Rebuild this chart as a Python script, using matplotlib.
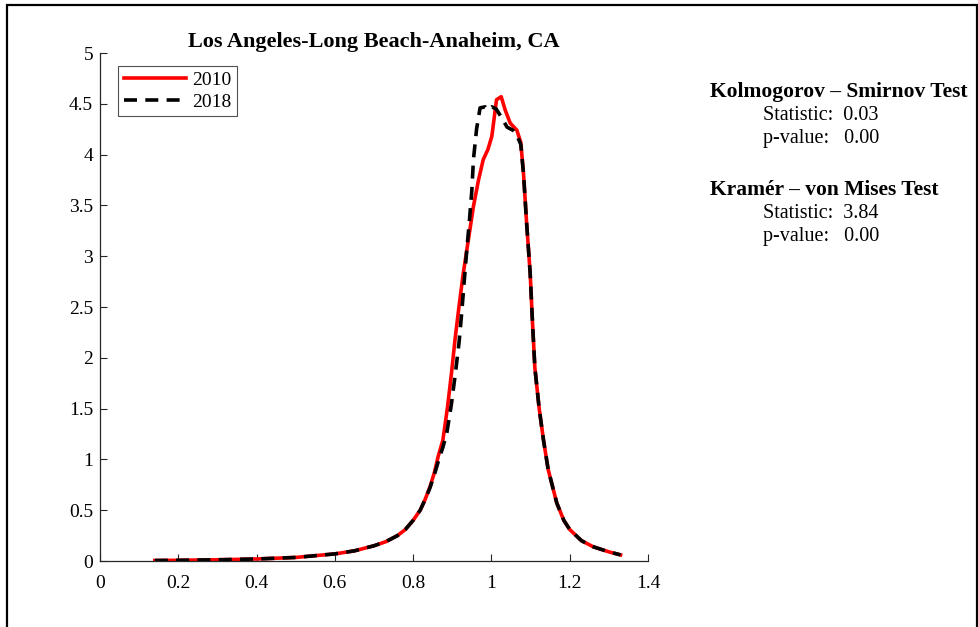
import matplotlib.pyplot as plt
from matplotlib.patches import Rectangle

plt.rcParams['font.family'] = ['Liberation Serif', 'DejaVu Serif']

# kernel density, 2010
x_2010 = [0.14, 0.20, 0.30, 0.40, 0.50, 0.60, 0.65, 0.70, 0.73, 0.76, 0.78, 0.80, 0.818,
          0.83, 0.843, 0.855, 0.864, 0.876, 0.888, 0.898, 0.907, 0.917, 0.928,
          0.941, 0.954, 0.967, 0.979, 0.991, 1.001, 1.013, 1.025, 1.035, 1.048,
          1.065, 1.075, 1.082, 1.090, 1.099, 1.105, 1.111, 1.122, 1.133, 1.145,
          1.167, 1.185, 1.20, 1.23, 1.26, 1.30, 1.33]
y_2010 = [0.005, 0.007, 0.012, 0.02, 0.035, 0.07, 0.10, 0.15, 0.19, 0.25, 0.31, 0.40, 0.50,
          0.60, 0.73, 0.88, 1.03, 1.19, 1.52, 1.85, 2.18, 2.50, 2.83,
          3.16, 3.49, 3.75, 3.95, 4.05, 4.18, 4.54, 4.57, 4.44, 4.31,
          4.24, 4.12, 3.81, 3.32, 2.83, 2.34, 1.90, 1.50, 1.19, 0.90,
          0.57, 0.40, 0.31, 0.20, 0.14, 0.09, 0.06]

# kernel density, 2018
x_2018 = [0.14, 0.20, 0.30, 0.40, 0.50, 0.60, 0.65, 0.70, 0.73, 0.76, 0.78, 0.80, 0.818,
          0.83, 0.843, 0.855, 0.865, 0.876, 0.886, 0.898, 0.908, 0.917, 0.924,
          0.930, 0.937, 0.944, 0.950, 0.954, 0.962, 0.971, 0.984, 0.990, 1.001,
          1.012, 1.025, 1.040, 1.055, 1.065, 1.075, 1.082, 1.090, 1.099, 1.105,
          1.111, 1.122, 1.133, 1.145, 1.167, 1.185, 1.20, 1.23, 1.26, 1.30, 1.33]
y_2018 = [0.005, 0.007, 0.012, 0.02, 0.035, 0.07, 0.10, 0.15, 0.19, 0.25, 0.31, 0.40, 0.50,
          0.60, 0.72, 0.86, 0.99, 1.12, 1.26, 1.55, 1.85, 2.14, 2.44,
          2.73, 3.06, 3.36, 3.65, 3.95, 4.25, 4.46, 4.47, 4.44, 4.47,
          4.45, 4.37, 4.27, 4.24, 4.19, 4.10, 3.81, 3.32, 2.83, 2.34,
          1.90, 1.50, 1.19, 0.90, 0.57, 0.40, 0.31, 0.20, 0.14, 0.09, 0.06]

title = 'Los Angeles-Long Beach-Anaheim, CA'
ks_stat, ks_p = 0.03, 0.00
cvm_stat, cvm_p = 3.84, 0.00

fig = plt.figure(figsize=(9.79, 6.27), dpi=100)
ax = fig.add_axes([100/979, 1 - 561/627, 548/979, 508/627])

ax.plot(x_2010, y_2010, color='red', lw=2.6, label='2010')
ax.plot(x_2018, y_2018, color='black', lw=2.6, dashes=(3.6, 2.3), label='2018')

ax.set_xlim(0, 1.4)
ax.set_ylim(0, 5)
ax.set_xticks([0, 0.2, 0.4, 0.6, 0.8, 1, 1.2, 1.4])
ax.set_xticklabels(['0', '0.2', '0.4', '0.6', '0.8', '1', '1.2', '1.4'])
ax.set_yticks([0, 0.5, 1, 1.5, 2, 2.5, 3, 3.5, 4, 4.5, 5])
ax.set_yticklabels(['0', '0.5', '1', '1.5', '2', '2.5', '3', '3.5', '4', '4.5', '5'])
ax.tick_params(direction='in', length=5, width=0.8, labelsize=14, color='0.15', pad=5)
ax.tick_params(axis='x', pad=10)
for s in ['top', 'right']:
    ax.spines[s].set_visible(False)
for s in ['left', 'bottom']:
    ax.spines[s].set_color('0.15')
    ax.spines[s].set_linewidth(0.9)

ax.set_title(title, fontsize=16, fontweight='bold', pad=4)

leg = ax.legend(loc='upper left', bbox_to_anchor=(0.033, 0.975), fontsize=14,
                frameon=True, fancybox=False, edgecolor='0.15', handlelength=3.2,
                handletextpad=0.3, borderpad=0.3, labelspacing=0.2, borderaxespad=0)
leg.get_frame().set_linewidth(0.8)

fs_head, fs = 15.5, 14.5
fig.text(710/979, 1 - 92/627, 'Kolmogorov \u2013 Smirnov Test', fontsize=fs_head,
         fontweight='bold', va='center')
fig.text(763/979, 1 - 116/627, f'Statistic:  {ks_stat:.2f}', fontsize=fs, va='center')
fig.text(763/979, 1 - 139/627, f'p-value:   {ks_p:.2f}', fontsize=fs, va='center')
fig.text(710/979, 1 - 190/627, 'Kram\u00e9r \u2013 von Mises Test', fontsize=fs_head,
         fontweight='bold', va='center')
fig.text(763/979, 1 - 213/627, f'Statistic:  {cvm_stat:.2f}', fontsize=fs, va='center')
fig.text(763/979, 1 - 237/627, f'p-value:   {cvm_p:.2f}', fontsize=fs, va='center')

# outer frame of the figure panel
fig.patches.append(Rectangle((7/979, -0.05), 970/979, 1.05 - 5/627,
                             transform=fig.transFigure, fill=False,
                             edgecolor='black', lw=1.6))

fig.savefig('out.png', dpi=100)
